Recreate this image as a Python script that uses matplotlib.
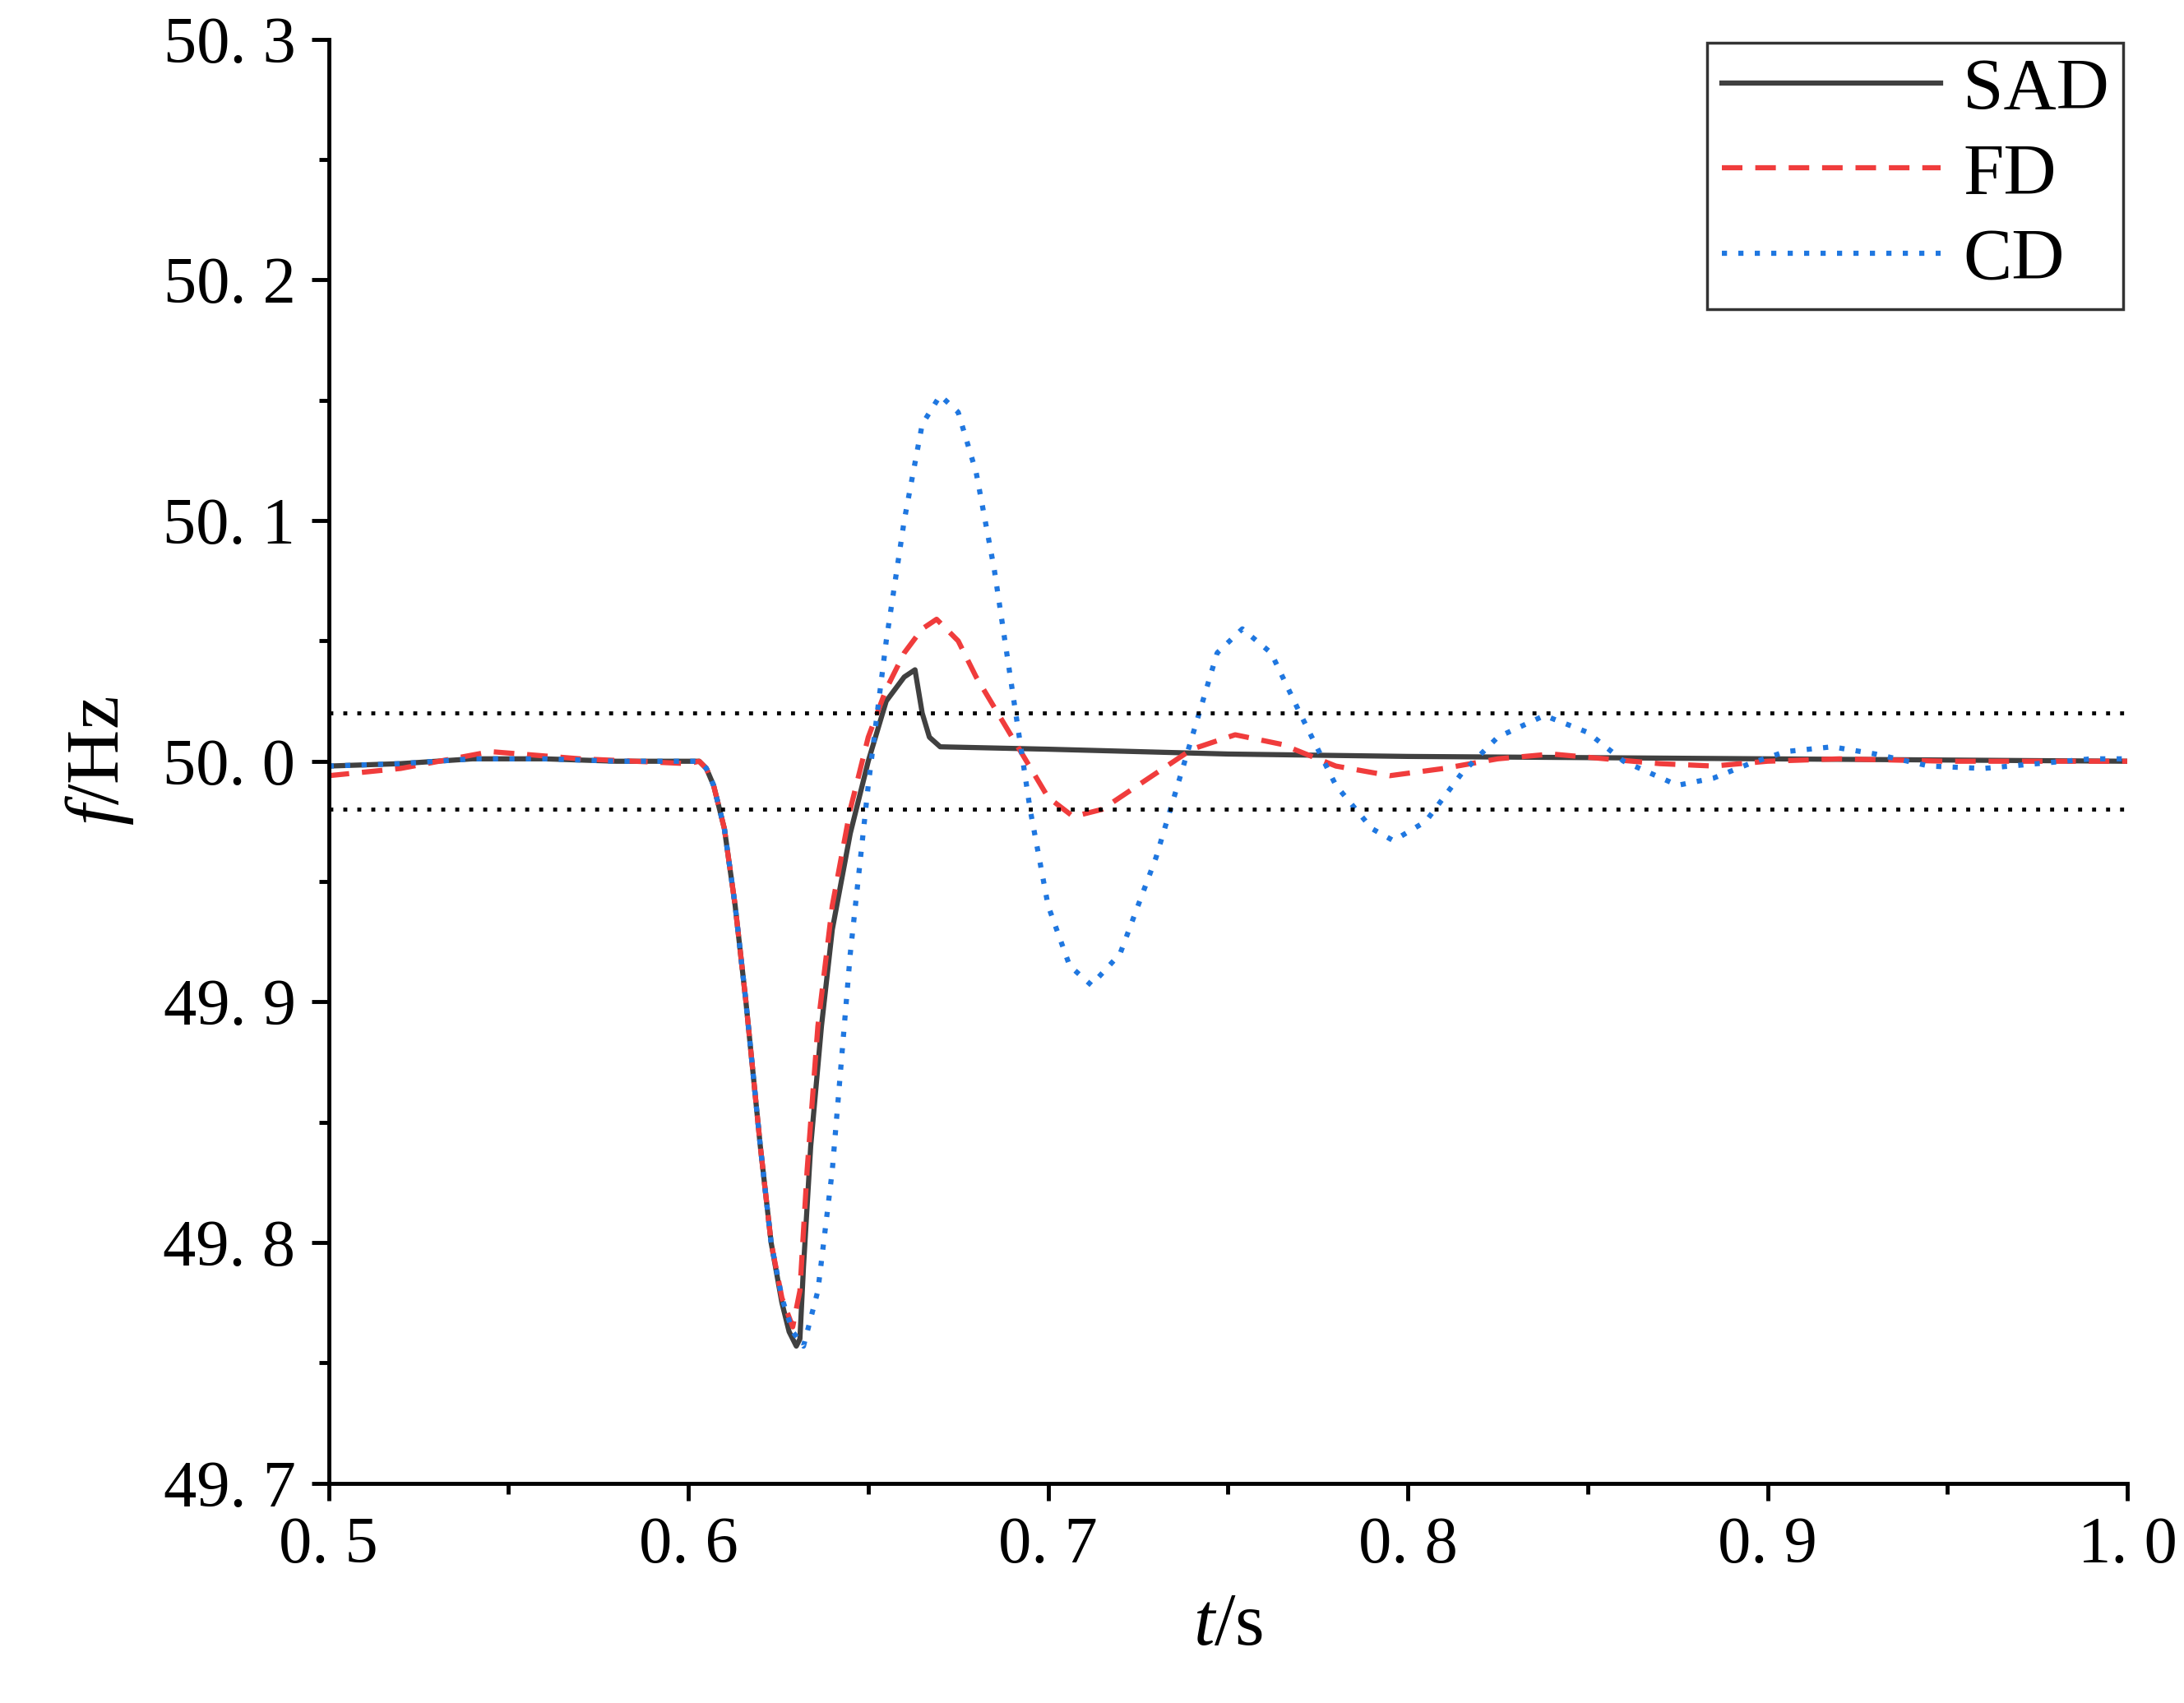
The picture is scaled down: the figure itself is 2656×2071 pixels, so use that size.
import matplotlib
matplotlib.use("Agg")
import matplotlib.pyplot as plt
from matplotlib.ticker import MultipleLocator, FuncFormatter

sad_t = [0.5,0.52,0.54,0.56,0.58,0.60,0.603,0.605,0.607,0.61,0.613,0.616,0.62,0.623,0.626,0.628,0.630,0.631,0.632,0.634,0.637,0.64,0.645,0.65,0.655,0.66,0.663,0.665,0.667,0.67,0.7,0.75,0.8,0.9,1.0]
sad_f = [49.998,49.999,50.001,50.001,50.000,50.000,50.000,49.997,49.99,49.972,49.94,49.90,49.84,49.80,49.775,49.763,49.757,49.76,49.79,49.84,49.89,49.93,49.97,50.00,50.025,50.035,50.038,50.02,50.01,50.006,50.005,50.003,50.002,50.001,50.000]

fd_t = [0.5,0.52,0.545,0.57,0.6,0.603,0.605,0.607,0.61,0.613,0.616,0.62,0.623,0.626,0.629,0.631,0.633,0.636,0.64,0.645,0.65,0.655,0.66,0.665,0.669,0.675,0.68,0.69,0.70,0.707,0.715,0.73,0.74,0.752,0.765,0.78,0.795,0.81,0.825,0.84,0.855,0.87,0.885,0.9,0.92,0.95,1.0]
fd_f = [49.994,49.997,50.004,50.001,49.999,50.0,49.997,49.99,49.972,49.94,49.90,49.84,49.80,49.777,49.765,49.78,49.83,49.89,49.94,49.98,50.01,50.03,50.045,50.055,50.059,50.05,50.035,50.01,49.985,49.977,49.98,49.995,50.005,50.011,50.007,49.998,49.994,49.997,50.001,50.003,50.001,49.999,49.998,50.0,50.001,50.0,50.0]

cd_t = [0.5,0.52,0.54,0.56,0.58,0.60,0.603,0.605,0.607,0.61,0.613,0.616,0.62,0.623,0.626,0.629,0.632,0.636,0.64,0.645,0.65,0.655,0.66,0.665,0.67,0.675,0.68,0.685,0.69,0.695,0.7,0.706,0.712,0.72,0.73,0.74,0.747,0.754,0.762,0.77,0.78,0.79,0.796,0.805,0.815,0.825,0.838,0.85,0.86,0.875,0.885,0.895,0.905,0.918,0.93,0.945,0.96,0.975,0.99,1.0]
cd_f = [49.998,49.999,50.001,50.001,50.000,50.000,50.000,49.997,49.99,49.972,49.94,49.90,49.84,49.80,49.777,49.763,49.757,49.78,49.83,49.92,49.99,50.05,50.10,50.14,50.152,50.145,50.12,50.08,50.03,49.98,49.94,49.915,49.907,49.92,49.96,50.01,50.045,50.055,50.045,50.02,49.99,49.972,49.967,49.975,49.995,50.01,50.019,50.012,50.0,49.99,49.993,49.999,50.004,50.006,50.003,49.998,49.997,49.999,50.001,50.001]

band = [50.02, 49.98]

plt.rcParams['font.family'] = ['Liberation Serif', 'DejaVu Serif']
plt.rcParams['mathtext.fontset'] = 'custom'
plt.rcParams['mathtext.it'] = 'Liberation Serif:italic'
plt.rcParams['mathtext.rm'] = 'Liberation Serif'

fig = plt.figure(figsize=(26.56, 20.71), dpi=100)
ax = fig.add_axes([0.1505, 0.129, 0.8235, 0.848])
ax.plot(sad_t, sad_f, color='#404040', lw=4.5, label='SAD')
ax.plot(fd_t, fd_f, color='#f03c3c', lw=4.5, ls=(0, (4, 2.5)), label='FD')
ax.plot(cd_t, cd_f, color='#1f77e0', lw=4.5, ls=(0, (1, 2.2)), label='CD')
for b in band:
    ax.axhline(b, color='black', lw=3.5, ls=(0, (1, 2.5)))

ax.set_xlim(0.5, 1.0)
ax.set_ylim(49.7, 50.3)
ax.xaxis.set_major_locator(MultipleLocator(0.1))
ax.xaxis.set_minor_locator(MultipleLocator(0.05))
ax.yaxis.set_major_locator(MultipleLocator(0.1))
ax.yaxis.set_minor_locator(MultipleLocator(0.05))
ax.xaxis.set_major_formatter(FuncFormatter(lambda v, p: f"{v:.1f}".replace('.', '. ')))
ax.yaxis.set_major_formatter(FuncFormatter(lambda v, p: f"{v:.1f}".replace('.', '. ')))
ax.tick_params(which='both', direction='out', width=3.5, labelsize=58)
ax.tick_params(which='major', length=15, pad=14)
ax.tick_params(which='minor', length=9)
for s in ['top', 'right']:
    ax.spines[s].set_visible(False)
for s in ['left', 'bottom']:
    ax.spines[s].set_linewidth(3.5)
ax.set_xlabel('$t$/s', fontsize=66, labelpad=14)
ax.set_ylabel('$f$/Hz', fontsize=66, labelpad=24)
leg = ax.legend(loc='upper right', fontsize=64, frameon=True, fancybox=False,
                edgecolor='black', handlelength=3.0, handletextpad=0.3,
                labelspacing=0.25, borderpad=0.2, borderaxespad=0.05)
leg.get_frame().set_linewidth(2.5)
fig.savefig('out.png', dpi=100)
